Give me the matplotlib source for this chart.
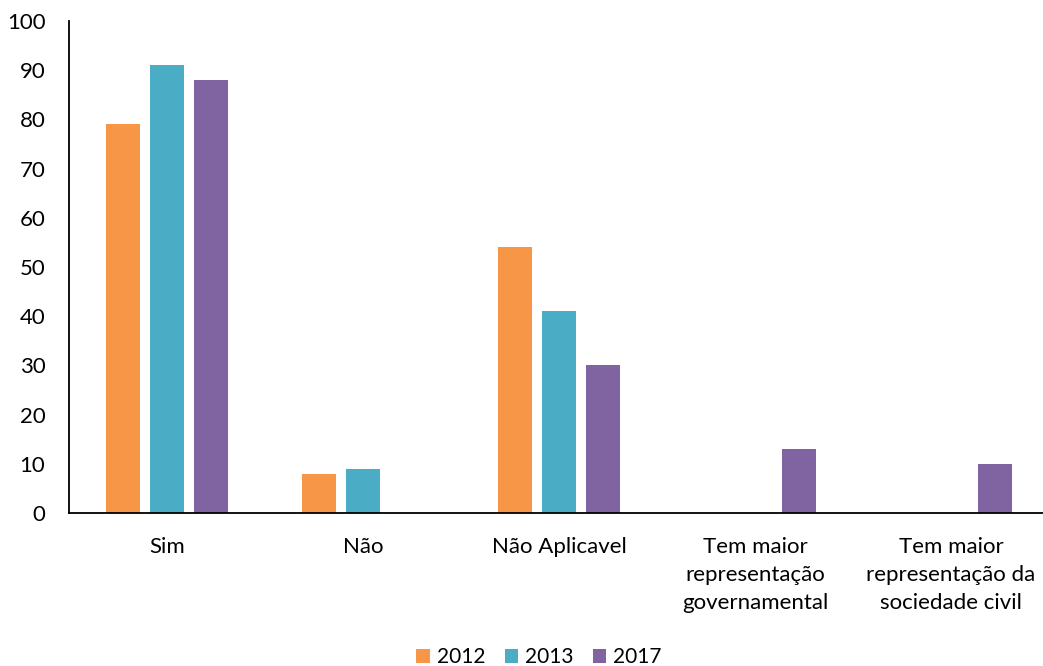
import numpy as np
import matplotlib
matplotlib.use("Agg")
import matplotlib.pyplot as plt

plt.rcParams['font.family'] = ['Lato', 'DejaVu Sans']

categorias = ['Sim', 'Não', 'Não Aplicavel',
              'Tem maior\nrepresentação\ngovernamental',
              'Tem maior\nrepresentação da\nsociedade civil']
anos = ['2012', '2013', '2017']
v2012 = [79, 8, 54, 0, 0]
v2013 = [91, 9, 41, 0, 0]
v2017 = [88, 0, 30, 13, 10]
cores = ['#F79646', '#4BACC6', '#8064A2']

W, H = 1043, 666
fig = plt.figure(figsize=(W / 100, H / 100), dpi=100)
# eixo de 69 px até a borda direita, 0 em y=513 e 100 em y=21
ax = fig.add_axes([69 / W, 1 - 513 / H, (W - 69) / W, (513 - 21) / H])

x = np.arange(len(categorias))
largura = 0.1735
passo = 0.2245
for i, (serie, ano) in enumerate(zip([v2012, v2013, v2017], anos)):
    ax.bar(x + (i - 1) * passo, serie, width=largura, color=cores[i],
           label=ano, zorder=2)

ax.set_xlim(-0.5, -0.5 + (W - 69) / 196)
ax.set_ylim(0, 100)
ax.set_yticks(range(0, 101, 10))
ax.set_xticks(x)
ax.set_xticklabels(categorias, fontsize=16, linespacing=1.5)
ax.tick_params(axis='y', labelsize=16, length=0, pad=17)
ax.tick_params(axis='x', length=0, pad=17)
ax.spines['top'].set_visible(False)
ax.spines['right'].set_visible(False)
ax.spines['left'].set_linewidth(1.3)
ax.spines['bottom'].set_linewidth(1.3)

fig.legend(loc='lower center', bbox_to_anchor=(0.517, -0.03), ncol=3,
           frameon=False, fontsize=15, handlelength=0.65, handleheight=0.65,
           handletextpad=0.35, columnspacing=0.9)

fig.savefig('out.png', dpi=100)
